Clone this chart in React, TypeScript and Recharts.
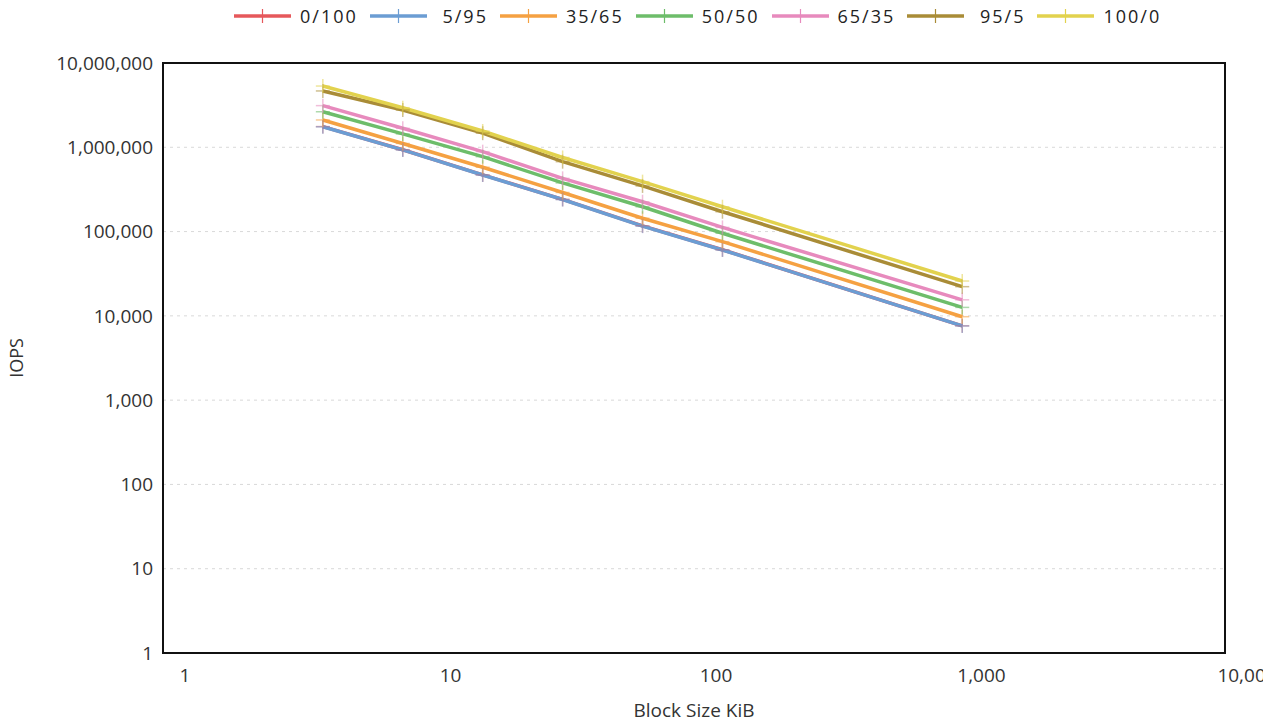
import React from 'react';
import {
  LineChart,
  Line,
  XAxis,
  YAxis,
  CartesianGrid,
  ReferenceArea,
} from 'recharts';

// ---------------------------------------------------------------------------
// Data
// ---------------------------------------------------------------------------

const blockSizes = [4, 8, 16, 32, 64, 128, 1024];

const mix0_100 = [1760000, 935000, 470000, 241000, 117000, 60800, 7620];
const mix5_95 = [1750000, 930000, 469000, 240000, 116000, 60500, 7590];
const mix35_65 = [2110000, 1110000, 580000, 291000, 144000, 75900, 9770];
const mix50_50 = [2640000, 1440000, 774000, 378000, 197000, 95500, 12600];
const mix65_35 = [3120000, 1680000, 887000, 428000, 226000, 112000, 15500];
const mix95_5 = [4660000, 2770000, 1470000, 675000, 348000, 172000, 22200];
const mix100_0 = [5330000, 2950000, 1560000, 757000, 391000, 197000, 25900];

const xTicks = [1, 10, 100, 1000, 10000];
const yTicks = [1, 10, 100, 1000, 10000, 100000, 1000000, 10000000];

const SERIES = [
  { key: 'm0_100', name: '0/100', values: mix0_100, color: '#e6585b' },
  { key: 'm5_95', name: ' 5/95', values: mix5_95, color: '#6b9dd3' },
  { key: 'm35_65', name: '35/65', values: mix35_65, color: '#f5a142' },
  { key: 'm50_50', name: '50/50', values: mix50_50, color: '#6dbd6a' },
  { key: 'm65_35', name: '65/35', values: mix65_35, color: '#e78abd' },
  { key: 'm95_5', name: ' 95/5', values: mix95_5, color: '#a98c37' },
  { key: 'm100_0', name: '100/0', values: mix100_0, color: '#e2d24e' },
];

const rows = blockSizes.map((bs, i) => {
  const row: Record<string, number> = { bs };
  SERIES.forEach((s) => {
    row[s.key] = s.values[i];
  });
  return row;
});

const FONT = '"Open Sans", sans-serif';
const fmt = (v: number) => v.toLocaleString('en-US');

// plus-shaped marker
function PlusDot(props: any) {
  const { cx, cy, stroke } = props;
  if (cx == null || cy == null) return null;
  return (
    <g stroke={stroke} strokeWidth={1.5} opacity={0.55}>
      <line x1={cx - 7} y1={cy} x2={cx + 7} y2={cy} />
      <line x1={cx} y1={cy - 7} x2={cx} y2={cy + 7} />
    </g>
  );
}

function LegendRow() {
  return (
    <div
      style={{
        position: 'absolute',
        left: 234,
        top: 4,
        display: 'flex',
        alignItems: 'center',
        fontFamily: FONT,
        fontSize: 18,
        letterSpacing: 2,
        color: '#222',
        whiteSpace: 'pre',
      }}
    >
      {SERIES.map((s) => (
        <div key={s.key} style={{ display: 'flex', alignItems: 'center', marginRight: 12 }}>
          <svg width={57} height={16} style={{ marginRight: 9 }}>
            <line x1={0} y1={8} x2={57} y2={8} stroke={s.color} strokeWidth={3.5} />
            <line x1={28.5} y1={1} x2={28.5} y2={15} stroke={s.color} strokeWidth={1.2} />
          </svg>
          <span>{s.name}</span>
        </div>
      ))}
    </div>
  );
}

export default function App() {
  return (
    <div style={{ position: 'absolute', left: 0, top: 0, width: 1263, height: 728 }}>
      <LineChart
        width={1263}
        height={728}
        data={rows}
        margin={{ top: 63, right: 38, left: 0, bottom: 0 }}
        style={{ fontFamily: FONT }}
      >
        <CartesianGrid vertical={false} stroke="#d9d9d9" strokeDasharray="3 4" />
        <XAxis
          dataKey="bs"
          type="number"
          scale="log"
          domain={[1, 10000]}
          ticks={xTicks}
          allowDataOverflow
          height={75}
          tickLine={false}
          tickSize={6}
          tickMargin={10}
          tickFormatter={fmt}
          tick={{ fill: '#333', fontSize: 19, dx: 22 }}
          axisLine={{ stroke: '#111', strokeWidth: 2 }}
          label={{ value: 'Block Size KiB', position: 'insideBottom', offset: 11, fill: '#333', fontSize: 19 }}
        />
        <YAxis
          type="number"
          scale="log"
          domain={[1, 10000000]}
          ticks={yTicks}
          allowDataOverflow
          width={163}
          tickLine={false}
          tickSize={6}
          tickMargin={4}
          tickFormatter={fmt}
          tick={{ fill: '#333', fontSize: 19 }}
          axisLine={{ stroke: '#111', strokeWidth: 2 }}
          label={{
            value: 'IOPS',
            angle: -90,
            position: 'insideLeft',
            offset: 17,
            fill: '#333',
            fontSize: 18,
            style: { textAnchor: 'middle' },
          }}
        />
        <ReferenceArea
          x1={1}
          x2={10000}
          y1={1}
          y2={10000000}
          fill="none"
          stroke="#111"
          strokeWidth={2}
          ifOverflow="visible"
        />
        {SERIES.map((s) => (
          <Line
            key={s.key}
            dataKey={s.key}
            name={s.name}
            stroke={s.color}
            strokeWidth={3.5}
            dot={<PlusDot />}
            activeDot={false}
            isAnimationActive={false}
          />
        ))}
      </LineChart>
      <LegendRow />
    </div>
  );
}
